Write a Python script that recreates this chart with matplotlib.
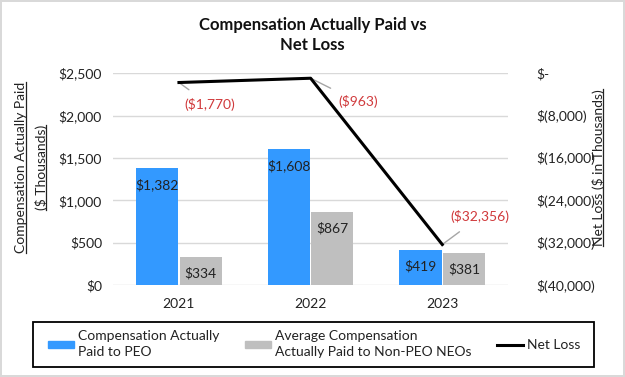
import numpy as np
import matplotlib.pyplot as plt
from matplotlib.patches import Patch, Rectangle
from matplotlib.lines import Line2D

years = ['2021', '2022', '2023']
peo_cap = [1382, 1608, 419]
neo_cap = [334, 867, 381]
net_loss = [-1770, -963, -32356]
left_ticks = [0, 500, 1000, 1500, 2000, 2500]
right_ticks = [0, -8000, -16000, -24000, -32000, -40000]

BLUE = '#3399FF'
GRAY = '#BFBFBF'
RED = '#D0393B'
TXT = '#222222'
plt.rcParams['font.family'] = ['Lato', 'DejaVu Sans']

fig = plt.figure(figsize=(6.25, 3.77), dpi=100)
fig.patch.set_edgecolor('#D9D9D9')
fig.patch.set_linewidth(1.5)
ax = fig.add_axes([0.181, 0.244, 0.632, 0.562])

x = np.arange(len(years))
w = 0.32
b1 = ax.bar(x - w / 2 - 0.005, peo_cap, w, color=BLUE, zorder=2)
b2 = ax.bar(x + w / 2 + 0.005, neo_cap, w, color=GRAY, zorder=2)
for bars, vals in ((b1, peo_cap), (b2, neo_cap)):
    for r, v in zip(bars, vals):
        ax.annotate(f'${v:,}', (r.get_x() + r.get_width() / 2, v), xytext=(0, -12),
                    textcoords='offset points', ha='center', va='center',
                    fontsize=10, color=TXT, zorder=3)

ax.set_xlim(-0.5, 2.5)
ax.set_ylim(0, 2500)
ax.set_yticks(left_ticks)
ax.set_yticklabels([f'${t:,}' for t in left_ticks])
ax.set_xticks(x)
ax.set_xticklabels(years)
ax.tick_params(length=0, labelsize=10, colors=TXT, pad=8)
ax.tick_params(axis='x', pad=9)
ax.grid(axis='y', color='#D9D9D9', linewidth=1, zorder=0)
for s in ax.spines.values():
    s.set_visible(False)

ax2 = ax.twinx()
ax2.set_ylim(-40000, 0)
ax2.set_yticks(right_ticks)
ax2.set_yticklabels(['$-' if t == 0 else f'$({-t:,})' for t in right_ticks])
ax2.tick_params(length=0, labelsize=10, colors=TXT, pad=20)
for s in ax2.spines.values():
    s.set_visible(False)
ax2.plot(x, net_loss, color='black', linewidth=2.2, zorder=4)

offsets = [(22, -16), (34, -17), (27, 20)]
for xi, v, off in zip(x, net_loss, offsets):
    ax2.annotate(f'(${-v:,})', (xi, v), xytext=off, textcoords='offset points',
                 ha='center', va='center', fontsize=10, color=RED,
                 arrowprops=dict(arrowstyle='-', color='#A6A6A6', lw=1, shrinkA=7, shrinkB=0))

fig.text(0.5, 0.907, 'Compensation Actually Paid vs\nNet Loss', ha='center', va='center',
         fontsize=12, fontweight='bold', color='#111111', linespacing=1.35)

# axis titles, underlined like the original
ylab = [
    fig.text(0.034, 0.555, 'Compensation Actually Paid', rotation=90, ha='center', va='center', fontsize=10, color=TXT),
    fig.text(0.066, 0.555, '($ Thousands)', rotation=90, ha='center', va='center', fontsize=10, color=TXT),
    fig.text(0.957, 0.555, 'Net Loss ($ in Thousands)', rotation=90, ha='center', va='center', fontsize=10, color=TXT),
]
fig.canvas.draw()
r = fig.canvas.get_renderer()
W, H = fig.bbox.width, fig.bbox.height
for t in ylab:
    bb = t.get_window_extent(r)
    xu = (bb.x1 - 1.5) / W
    fig.add_artist(Line2D([xu, xu], [bb.y0 / H, bb.y1 / H], color=TXT, lw=0.9))

# legend with a drawn frame
fig.add_artist(Rectangle((33 / 625, 1 - 367 / 377), (594 - 33) / 625, 45 / 377,
                         transform=fig.transFigure, fill=False, edgecolor='black', lw=1.3))
handles = [Patch(color=BLUE), Patch(color=GRAY), Line2D([0], [0], color='black', lw=2.2)]
labels = ['Compensation Actually\nPaid to PEO', 'Average Compensation\nActually Paid to Non-PEO NEOs', 'Net Loss']
leg = fig.legend(handles, labels, ncol=3, loc='center', bbox_to_anchor=(0.503, 0.087),
                 fontsize=10, frameon=False, handlelength=1.9, handleheight=0.4,
                 handletextpad=0.3, columnspacing=1.8, borderaxespad=0, labelcolor=TXT)
for t in leg.get_texts():
    t.set_linespacing(1.45)

fig.savefig('out.png', dpi=100, edgecolor=fig.get_edgecolor())
